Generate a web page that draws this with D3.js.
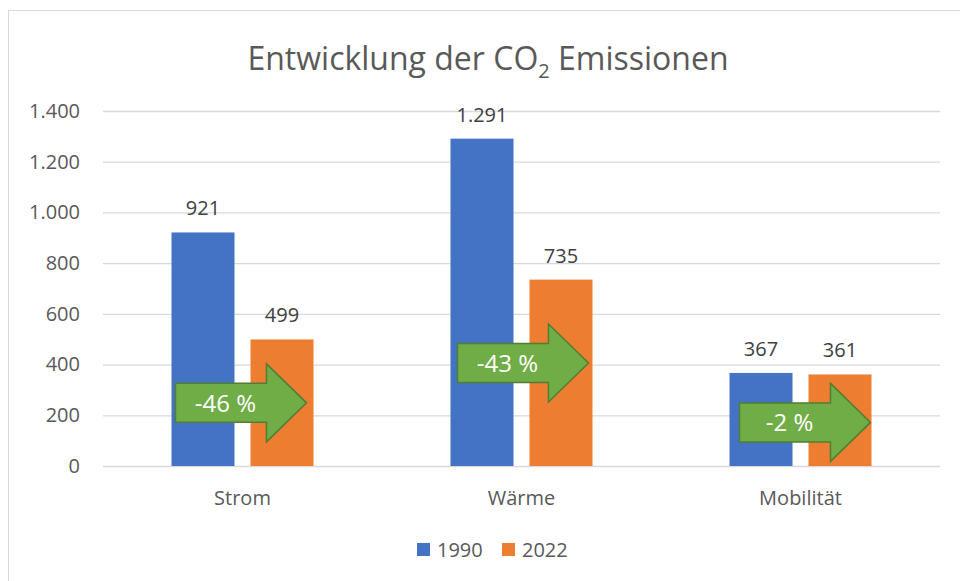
<!DOCTYPE html>
<html>
<head>
<meta charset="utf-8">
<script src="https://cdn.jsdelivr.net/npm/d3@7"></script>
<style>
  body { margin: 0; background: #fff; }
  svg text { font-family: "Open Sans", "Noto Sans", sans-serif; }
</style>
</head>
<body>
<svg id="chart" width="960" height="581"></svg>
<script>
// Data
const categories = ["Strom", "Wärme", "Mobilität"];
const seriesNames = ["1990", "2022"];
const values1990 = [921, 1291, 367];
const values2022 = [499, 735, 361];
const yTicks = [0, 200, 400, 600, 800, 1000, 1200, 1400];
const changeLabels = ["-46 %", "-43 %", "-2 %"];
const arrowLevels = [249, 406, 172]; // where the arrows sit, in y units

const colors = { "1990": "#4472C4", "2022": "#ED7D31" };

const svg = d3.select("#chart");

// Chart frame
svg.append("rect")
    .attr("x", 8.5).attr("y", 10.5)
    .attr("width", 1000).attr("height", 700)
    .attr("fill", "#fff")
    .attr("stroke", "#d9d9d9");

const plotLeft = 103, plotRight = 940, plotTop = 111, plotBottom = 466;

const x0 = d3.scaleBand().domain(categories).range([plotLeft, plotRight])
    .paddingInner(0.491).paddingOuter(0.2455);
const x1 = d3.scaleBand().domain(seriesNames).range([0, x0.bandwidth()])
    .paddingInner(0.2025);
const y = d3.scaleLinear().domain([0, 1400]).range([plotBottom, plotTop]);

const fmt = d3.formatLocale({ decimal: ",", thousands: ".", grouping: [3], currency: ["", "€"] }).format(",d");

// Gridlines + y axis labels
const yAxis = svg.append("g")
    .attr("transform", `translate(${plotLeft},0)`)
    .call(d3.axisLeft(y).tickValues(yTicks).tickSize(-(plotRight - plotLeft)).tickPadding(23).tickFormat(fmt));
yAxis.select(".domain").remove();
yAxis.selectAll(".tick line").attr("stroke", "#d9d9d9").attr("stroke-width", 1.3);
yAxis.selectAll(".tick text")
    .attr("fill", "#595959")
    .style("font-size", "20px");

// Title
const title = svg.append("text")
    .attr("x", 488).attr("y", 70)
    .attr("text-anchor", "middle")
    .attr("fill", "#595959")
    .style("font-size", "32px");
title.append("tspan").text("Entwicklung der CO");
title.append("tspan").attr("dy", 8).style("font-size", "20px").text("2");
title.append("tspan").attr("dy", -8).text(" Emissionen");

// Bars
const rows = categories.map((c, i) => ({ cat: c, "1990": values1990[i], "2022": values2022[i] }));

const groups = svg.selectAll(".grp")
    .data(rows)
    .join("g")
    .attr("class", "grp")
    .attr("transform", d => `translate(${x0(d.cat)},0)`);

groups.selectAll("rect")
    .data(d => seriesNames.map(s => ({ s, v: d[s] })))
    .join("rect")
    .attr("x", d => x1(d.s))
    .attr("y", d => y(d.v))
    .attr("width", x1.bandwidth())
    .attr("height", d => y(0) - y(d.v))
    .attr("fill", d => colors[d.s]);

groups.selectAll(".lbl")
    .data(d => seriesNames.map(s => ({ s, v: d[s] })))
    .join("text")
    .attr("class", "lbl")
    .attr("x", d => x1(d.s) + x1.bandwidth() / 2)
    .attr("y", d => y(d.v) - 17)
    .attr("text-anchor", "middle")
    .attr("fill", "#404040")
    .style("font-size", "20px")
    .text(d => fmt(d.v));

// Category labels
svg.append("g")
    .selectAll("text")
    .data(categories)
    .join("text")
    .attr("x", d => x0(d) + x0.bandwidth() / 2)
    .attr("y", 505)
    .attr("text-anchor", "middle")
    .attr("fill", "#595959")
    .style("font-size", "20px")
    .text(d => d);

// Change arrows
const arrowW = 131, bodyH = 39, headH = 78, headLen = 40;
const arrows = svg.selectAll(".arrow")
    .data(categories.map((c, i) => ({ cat: c, label: changeLabels[i], level: arrowLevels[i] })))
    .join("g")
    .attr("class", "arrow")
    .attr("transform", (d, i) => `translate(${x0(d.cat) + 4 + i * 3},${y(d.level)})`);

arrows.append("path")
    .attr("d", () => {
        const bx = arrowW - headLen;
        return `M0,${-bodyH / 2} L${bx},${-bodyH / 2} L${bx},${-headH / 2} L${arrowW},0 ` +
               `L${bx},${headH / 2} L${bx},${bodyH / 2} L0,${bodyH / 2} Z`;
    })
    .attr("fill", "#70AD47")
    .attr("stroke", "#507E32")
    .attr("stroke-width", 1.5);

arrows.append("text")
    .attr("x", 50)
    .attr("y", 9)
    .attr("text-anchor", "middle")
    .attr("fill", "#fff")
    .style("font-size", "24px")
    .text(d => d.label);

// Legend
const legend = svg.append("g").attr("transform", "translate(417,550)");
const legendItems = legend.selectAll("g")
    .data(seriesNames)
    .join("g")
    .attr("transform", (d, i) => `translate(${i * 85},0)`);
legendItems.append("rect")
    .attr("x", 0).attr("y", -7)
    .attr("width", 13).attr("height", 13)
    .attr("fill", d => colors[d]);
legendItems.append("text")
    .attr("x", 20).attr("y", 7)
    .attr("fill", "#595959")
    .style("font-size", "20px")
    .text(d => d);
</script>
</body>
</html>
